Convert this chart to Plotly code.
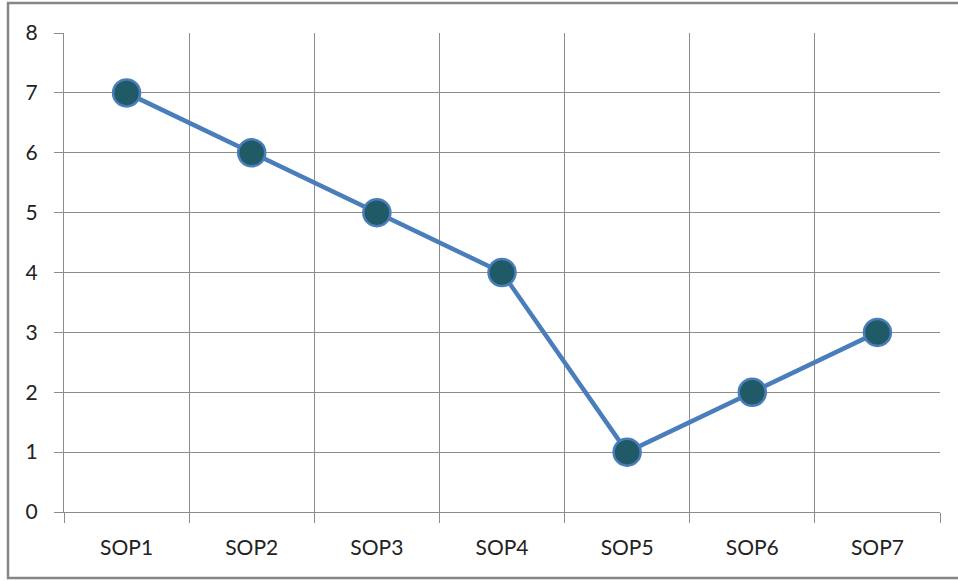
import plotly.graph_objects as go

categories = ["SOP1", "SOP2", "SOP3", "SOP4", "SOP5", "SOP6", "SOP7"]
values = [7, 6, 5, 4, 1, 2, 3]

W, H = 958, 581
L, R, T, B = 64, 18, 33, 69
pw, ph = W - L - R, H - T - B

fig = go.Figure()
fig.add_trace(go.Scatter(
    x=categories, y=values, mode="lines+markers",
    line=dict(color="#4A7EBB", width=4.5),
    marker=dict(size=27, color="#1F5A66", line=dict(color="#4A7EBB", width=2.5)),
    showlegend=False,
))

grid = "#8C8C8C"
fig.update_layout(
    width=W, height=H,
    margin=dict(l=L, r=R, t=T, b=B),
    paper_bgcolor="white", plot_bgcolor="white",
    font=dict(family="Lato, 'Open Sans', sans-serif", size=21, color="#222222"),
    xaxis=dict(
        type="category", range=[-0.5, 6.5], tickson="boundaries",
        showgrid=True, gridcolor=grid, gridwidth=1,
        ticks="outside", ticklen=10, tickcolor=grid, tickwidth=1,
        showline=True, linecolor=grid, linewidth=1,
        ticklabelstandoff=17,
    ),
    yaxis=dict(
        range=[0, 8], dtick=1, tick0=0,
        showgrid=True, gridcolor=grid, gridwidth=1,
        ticks="outside", ticklen=9, tickcolor=grid, tickwidth=1,
        showline=True, linecolor=grid, linewidth=1,
        zeroline=False, ticklabelstandoff=12,
    ),
)

def px_x(x):
    return (x - L) / pw

def px_y(y):
    return (H - B - y) / ph

fig.add_shape(type="rect", xref="paper", yref="paper",
              x0=px_x(8), x1=px_x(962), y0=px_y(578), y1=px_y(3),
              line=dict(color="#868686", width=2.5), fillcolor="rgba(0,0,0,0)",
              layer="below")

fig.write_html("out.html", config={"displayModeBar": False},
               post_script="document.body.style.margin='0';document.body.style.overflow='hidden';")
